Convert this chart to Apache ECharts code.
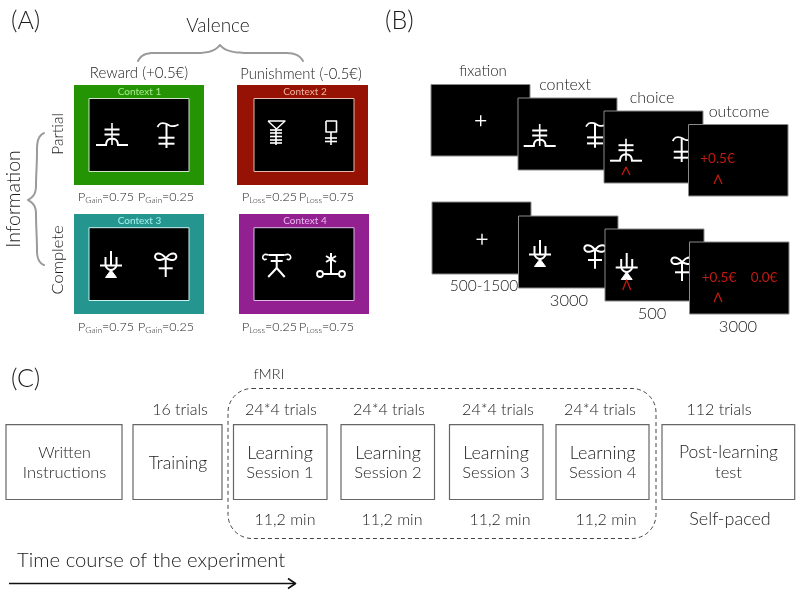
<!DOCTYPE html>
<html><head><meta charset="utf-8">
<style>html,body{margin:0;padding:0;background:#fff}#c{width:800px;height:593px}</style>
<script src="https://cdn.jsdelivr.net/npm/echarts@6/dist/echarts.min.js"></script>
</head><body><div id="c"></div>
<script>
const panelTags = ['(A)', '(B)', '(C)'];
const valenceTitle = 'Valence';
const valenceLabels = ['Reward (+0.5€)', 'Punishment (-0.5€)'];
const informationTitle = 'Information';
const informationLabels = ['Partial', 'Complete'];
const contextLabels = ['Context 1', 'Context 2', 'Context 3', 'Context 4'];
const contextColors = ['#259404', '#961204', '#24968f', '#932091'];
const contextTextColors = ['#a8ea90', '#f2b3a2', '#a8f2ee', '#e9b8ef'];
const contextInnerBorders = ['#cfe6c4', '#e8b8a8', '#c8f4f0', '#e0b8ea'];
const gainProbs = ['0.75', '0.25'];
const lossProbs = ['0.25', '0.75'];
const phaseLabels = ['fixation', 'context', 'choice', 'outcome'];
const durationLabels = ['500-1500', '3000', '500', '3000'];
const outcomeWin = '+0.5€';
const outcomeOther = '0.0€';
const timelineBoxes = [['Written', 'Instructions'], ['Training'], ['Learning', 'Session 1'], ['Learning', 'Session 2'], ['Learning', 'Session 3'], ['Learning', 'Session 4'], ['Post-learning', 'test']];
const trialLabels = ['16 trials', '24*4 trials', '24*4 trials', '24*4 trials', '24*4 trials', '112 trials'];
const durationMin = ['11,2 min', '11,2 min', '11,2 min', '11,2 min', 'Self-paced'];
const fmriLabel = 'fMRI';
const timeCourseLabel = 'Time course of the experiment';

const FONT = 'Lato';
const INK = '#1c1c1c';
const els = [];
function T(text, x, y, size, o) {
  o = o || {};
  els.push({type:'text', x:x, y:y, rotation:o.rot||0, silent:true, style:{text:text, fontFamily:FONT, fontSize:size, fill:o.fill||INK, align:o.align||'center', verticalAlign:'middle', fontWeight:o.weight||300, rich:o.rich}});
}
function R(x0, y0, x1, y1, fill, stroke, lw, o) {
  o = o || {};
  els.push({type:'rect', silent:true, shape:{x:x0, y:y0, width:x1-x0, height:y1-y0, r:o.r||0}, style:{fill:fill||'transparent', stroke:stroke||null, lineWidth:lw||0, lineDash:o.dash}});
}
function L(pts, color, lw, o) {
  o = o || {};
  els.push({type:o.fill?'polygon':'polyline', silent:true, shape:{points:pts, smooth:o.smooth||0}, style:{fill:o.fill||'transparent', stroke:color, lineWidth:lw, lineCap:o.cap||'butt', lineJoin:'round'}});
}
function B(segs, color, lw) {
  const pts = [];
  segs.forEach(function(s){
    for (let k=0;k<=16;k++){ const t=k/16,u=1-t;
      pts.push([u*u*u*s[0]+3*u*u*t*s[2]+3*u*t*t*s[4]+t*t*t*s[6], u*u*u*s[1]+3*u*u*t*s[3]+3*u*t*t*s[5]+t*t*t*s[7]]); }
  });
  L(pts, color, lw, {cap:'round'});
}
function C(cx, cy, r, color, lw) {
  els.push({type:'circle', silent:true, shape:{cx:cx, cy:cy, r:r}, style:{fill:'transparent', stroke:color, lineWidth:lw}});
}
const W = '#ffffff';
const glyphs = [
  function(x,y){const m=(p)=>p.map(q=>[x+q[0],y+q[1]]);
    L(m([[-16,11],[-5,11]]),W,2); L(m([[5,11],[16,11]]),W,2); L(m([[-7.5,-4.5],[7.5,-4.5]]),W,2); L(m([[-7.5,.5],[7.5,.5]]),W,2);
    L(m([[0,-11],[0,11]]),W,1.6); L(m([[-6,11],[-5,7],[-2.5,5],[2.5,5],[5,7],[6,11]]),W,2,{smooth:.4});},
  function(x,y){const m=(p)=>p.map(q=>[x+q[0],y+q[1]]);
    L(m([[-9,-9],[-6,-12.5],[-1,-12.5],[4,-10],[8,-10],[12,-11.5]]),W,1.8,{smooth:.4});
    L(m([[0,-12],[0,12]]),W,2); L(m([[-8,1.7],[8,1.7]]),W,2); L(m([[-8,7.7],[8,7.7]]),W,2);},
  function(x,y){const m=(p)=>p.map(q=>[x+q[0],y+q[1]]);
    L(m([[-8,-12],[9,-12],[0.5,-4],[-8,-12]]),W,1.4); L(m([[0,-4],[0,12]]),W,1.6);
    [-3,0,3.5,7,10].forEach(v=>L(m([[-6,v],[6,v]]),W,1.6));},
  function(x,y){const m=(p)=>p.map(q=>[x+q[0],y+q[1]]);
    L(m([[-5,-12],[5.5,-12],[5.5,-1],[-5,-1],[-5,-12]]),W,1.6); L(m([[0,-1],[0,12]]),W,1.6);
    L(m([[-6,5],[6,5]]),W,1.6); L(m([[-6,8.5],[6,8.5]]),W,1.6);},
  function(x,y){const m=(p)=>p.map(q=>[x+q[0],y+q[1]]);
    L(m([[-11,.5],[11,.5]]),W,2); L(m([[0,-14],[0,.5]]),W,2);
    L(m([[-5.5,-8],[-5.5,1]]),W,2); L(m([[5.5,-8],[5.5,1]]),W,2);
    L(m([[-5.5,1],[-3,4],[0,5],[3,4],[5.5,1]]),W,2,{smooth:.4});
    L(m([[0,5],[-5.5,12.5],[5.5,12.5]]),W,1,{fill:W});},
  function(x,y){const m=(p)=>p.map(q=>[x+q[0],y+q[1]]);
    L(m([[0,-7],[-4,-10.5],[-8,-11.5],[-10.5,-9.5],[-10,-6.5],[-7.5,-5],[-3.5,-5.5],[0,-7],[4,-10.5],[8,-11.5],[10.5,-9.5],[10,-6.5],[7.5,-5],[3.5,-5.5],[0,-7]]),W,2,{smooth:.3});
    L(m([[0,-7],[0,12]]),W,2); L(m([[-7,3.3],[7,3.3]]),W,2);},
  function(x,y){const m=(p)=>p.map(q=>[x+q[0],y+q[1]]);
    L(m([[-8,-11],[8,-11]]),W,2); L(m([[-6,-5],[6,-5]]),W,2); L(m([[0,-11],[0,2]]),W,2);
    L(m([[0,2],[-8.5,11]]),W,2); L(m([[0,2],[8,11]]),W,2);
    L(m([[-8,-11],[-12,-11.5],[-14,-9],[-12.5,-6.5],[-10,-7]]),W,1.6,{smooth:.4});
    L(m([[8,-11],[12,-11.5],[14,-9],[12.5,-6.5],[10,-7]]),W,1.6,{smooth:.4});},
  function(x,y){const m=(p)=>p.map(q=>[x+q[0],y+q[1]]);
    L(m([[0,-13],[0,8]]),W,2); L(m([[-5,-10],[5,-4]]),W,2); L(m([[5,-10],[-5,-4]]),W,2);
    L(m([[-8,8],[8,8]]),W,2); C(x-11,y+8,3,W,1.8); C(x+11,y+8,3,W,1.8);}
];
function caret(x, y0, y1) { L([[x-4,y1],[x,y0],[x+4,y1]], '#c01a10', 1.3); }

/* ---- Panel A ---- */
T(panelTags[0], 11, 21, 25, {align:'left'});
T(valenceTitle, 218, 26, 19);
B([[138,61,141,55,146,53,154,53],[154,53,170,53,180,53,196,53],[196,53,208,53,215,51,220,45],[220,45,225,51,232,52,244,53],[244,53,260,53,270,53,285,53],[285,53,296,53,300,56,303,61]], '#9a9a9a', 2);
T(valenceLabels[0], 139, 73, 15);
T(valenceLabels[1], 301, 74, 14.8);

const boxX = [[74,204,89,189],[237,368,254,354],[74,204,89,189],[239,369,254,354]];
const boxY = [[85,185,98.5,171.5],[85,185,98.5,171.5],[214,314,227.7,300.5],[214,314,227.7,300.5]];
const labelCx = [139.5,305,139.5,305];
const glyphPos = [[112,134,0],[166.5,136,1],[276,133,2],[331,133,3],[111,265,4],[165.7,265,5],[276.7,266,6],[331,266,7]];
contextLabels.forEach(function(t,i){
  R(boxX[i][0],boxY[i][0],boxX[i][1],boxY[i][1],contextColors[i]);
  R(boxX[i][2],boxY[i][2],boxX[i][3],boxY[i][3],'#000',contextInnerBorders[i],1);
  T(t,labelCx[i],boxY[i][0]+7,10,{fill:contextTextColors[i],weight:400});
});
glyphPos.forEach(g=>glyphs[g[2]](g[0],g[1]));

const pRich = {a:{fontFamily:FONT,fontWeight:300,fontSize:12.5,fill:INK,color:INK}, b:{fontFamily:FONT,fontWeight:300,fontSize:8.5,fill:INK,color:INK,padding:[6,0,0,0],verticalAlign:'bottom'}};
function pLabel(name, val, x, y) { T('{a|P}{b|'+name+'}{a|='+val+'}', x, y, 12.5, {align:'left', rich:pRich}); }
[197,327].forEach(function(y){
  pLabel('Gain',gainProbs[0],78,y); pLabel('Gain',gainProbs[1],138,y);
  pLabel('Loss',lossProbs[0],242,y); pLabel('Loss',lossProbs[1],299,y);
});

T(informationTitle, 14, 199, 19.5, {rot:Math.PI/2});
T(informationLabels[0], 58, 134, 15.5, {rot:Math.PI/2});
T(informationLabels[1], 58, 260, 16.5, {rot:Math.PI/2});
B([[44,133,38,136,37,142,37,150],[37,150,37,165,36,175,36,185],[36,185,36,194,33,197,28,200],[28,200,33,203,36,206,36,214],[36,214,36,225,37,240,37,250],[37,250,37,258,39,263,44,265]], '#9a9a9a', 2);

/* ---- Panel B ---- */
T(panelTags[1], 385, 21, 25, {align:'left'});
const rows = [
  {f:[431,84.5,530,156], c:[518,98,617,170], h:[604,111,703,183], o:[688.5,124.5,788,196]},
  {f:[432,202,531,274], c:[518.5,216,618,288], h:[605,229,704,301], o:[689.5,242,789,314]}
];
const GREY = '#8a8a8a';
function scr(a){ R(a[0],a[1],a[2],a[3],'#000',GREY,1); }
function plus(x,y){ L([[x-5.5,y],[x+5.5,y]],W,1.4); L([[x,y-5.5],[x,y+5.5]],W,1.4); }
scr(rows[0].f); plus(480.7,120.7);
scr(rows[0].c); glyphs[0](539.7,135); glyphs[1](595,135.7);
scr(rows[0].h); glyphs[0](626,149.7); glyphs[1](681.7,150); caret(626,167,175);
scr(rows[0].o); T(outcomeWin,717.5,159,13.5,{fill:'#c01a10',weight:400}); caret(718,175,184);
scr(rows[1].f); plus(482,239.3);
scr(rows[1].c); glyphs[4](540,254); glyphs[5](595,256.7);
scr(rows[1].h); glyphs[4](626.7,267); glyphs[5](682,269); caret(626.7,280,290);
scr(rows[1].o); T(outcomeWin,719,278,13.5,{fill:'#c01a10',weight:400}); T(outcomeOther,764,278,13.5,{fill:'#c01a10',weight:400}); caret(718,293,302);
[[483,71,15],[565,85,16],[652,98,16],[739,112,16]].forEach((p,i)=>T(phaseLabels[i],p[0],p[1],p[2]));
[[484,286,15.5],[569,301,16.5],[652,314,16.5],[738,327,16.5]].forEach((p,i)=>T(durationLabels[i],p[0],p[1],p[2]));

/* ---- Panel C ---- */
T(panelTags[2], 11, 379, 25, {align:'left'});
T(fmriLabel, 269, 374, 14.5);
const tlX = [[6,122],[133,222],[233.5,327],[341,434.5],[449.5,543],[556,649],[662,794.7]];
const tlCx = [64.5,178,280,388,496,602.7,728.5];
R(228,388.5,656,538.5,null,'#444',1,{r:24,dash:[4,3]});
timelineBoxes.forEach(function(lines,i){
  R(tlX[i][0],424.7,tlX[i][1],499.5,'#fff','#666',1.2);
  if(lines.length===2){ T(lines[0],tlCx[i],452.7,i>=2&&i<6?18:(i===6?17.5:16)); T(lines[1],tlCx[i],472.7,16.5); }
  else T(lines[0],tlCx[i],463,17.5);
});
[180,281,389,498,600,719].forEach((x,i)=>T(trialLabels[i],x,410,16));
[285,392,500,606,730].forEach((x,i)=>T(durationMin[i],x,519.5,i===4?18:16));
T(timeCourseLabel, 17, 560, 20.3, {align:'left'});
L([[9,583.5],[295,583.5]],'#111',1.6);
L([[288,578.5],[295.5,583.5],[288,588.5]],'#111',1.6);

const chart = echarts.init(document.getElementById('c'), null, {renderer:'canvas', width:800, height:593});
chart.setOption({animation:false, backgroundColor:'#fff', graphic:{elements:els}});
</script></body></html>
